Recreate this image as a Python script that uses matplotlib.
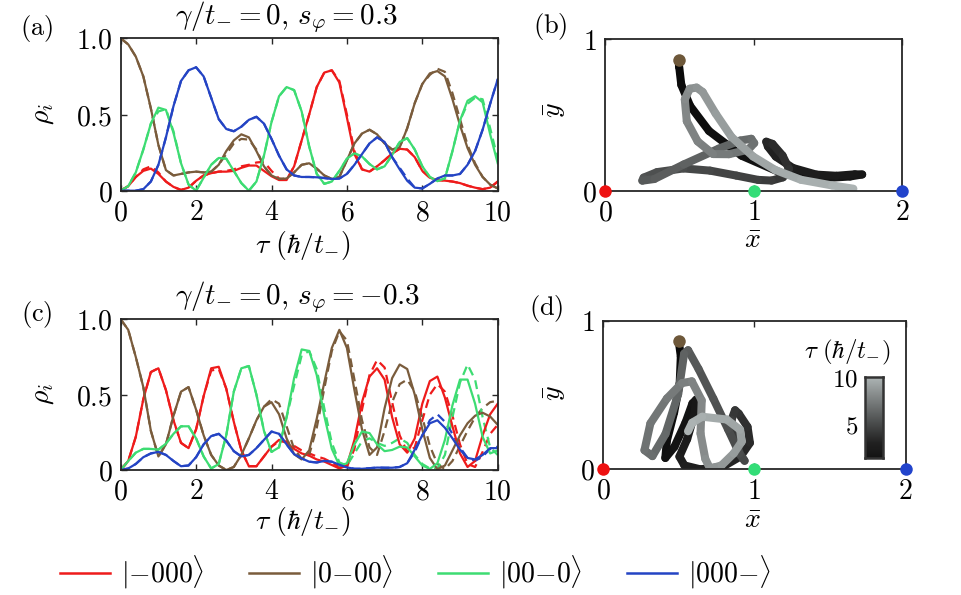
import numpy as np
import matplotlib
matplotlib.use('Agg')
import matplotlib.pyplot as plt
from matplotlib.collections import LineCollection
from matplotlib.colors import LinearSegmentedColormap, Normalize
from matplotlib.lines import Line2D

plt.rcParams['mathtext.fontset'] = 'cm'
plt.rcParams['font.family'] = ['DejaVu Serif']

# ---------------- data ----------------
tau = np.linspace(0, 10, 51)  # sampling grid, step 0.2

# panel (a): gamma/t=0, s_phi=0.3   (solid)
red_a = [0.00,0.03,0.09,0.13,0.145,0.11,0.06,0.025,0.005,0.02,
         0.065,0.10,0.115,0.125,0.125,0.13,0.15,0.165,0.165,0.13,
         0.095,0.07,0.07,0.16,0.33,0.50,0.68,0.775,0.79,0.71,
         0.48,0.24,0.14,0.125,0.16,0.20,0.245,0.275,0.27,0.22,
         0.13,0.085,0.07,0.066,0.06,0.05,0.033,0.02,0.01,0.02,
         0.06]
brown_a = [1.00,0.96,0.88,0.75,0.54,0.30,0.135,0.10,0.11,0.12,
           0.125,0.12,0.125,0.17,0.26,0.33,0.37,0.35,0.26,0.16,
           0.10,0.077,0.08,0.12,0.17,0.18,0.145,0.10,0.077,0.09,
           0.20,0.31,0.375,0.40,0.37,0.31,0.27,0.285,0.41,0.575,
           0.70,0.77,0.785,0.75,0.60,0.43,0.28,0.17,0.09,0.04,
           0.015]
green_a = [0.00,0.03,0.12,0.27,0.44,0.545,0.53,0.38,0.18,0.04,
           0.00,0.085,0.17,0.215,0.21,0.13,0.05,0.00,0.06,0.23,
           0.45,0.62,0.68,0.66,0.52,0.29,0.11,0.045,0.06,0.13,
           0.21,0.245,0.225,0.175,0.14,0.16,0.235,0.32,0.345,0.27,
           0.16,0.09,0.063,0.08,0.26,0.46,0.59,0.62,0.58,0.37,
           0.18]
blue_a = [0.00,0.00,0.00,0.01,0.06,0.17,0.35,0.555,0.72,0.79,
          0.81,0.75,0.61,0.47,0.405,0.39,0.42,0.465,0.485,0.44,
          0.34,0.23,0.14,0.10,0.09,0.09,0.088,0.083,0.077,0.08,
          0.11,0.17,0.24,0.31,0.35,0.32,0.22,0.14,0.065,0.02,
          0.015,0.045,0.08,0.10,0.10,0.11,0.17,0.26,0.40,0.57,
          0.73]

# panel (a) dashed
red_a_d = [0.00,0.03,0.09,0.14,0.16,0.12,0.06,0.025,0.005,0.02,
           0.065,0.10,0.115,0.125,0.13,0.14,0.16,0.17,0.185,0.19,
           0.13,0.08,0.07,0.16,0.33,0.50,0.68,0.775,0.79,0.72,
           0.50,0.26,0.14,0.125,0.16,0.20,0.245,0.275,0.27,0.22,
           0.13,0.085,0.07,0.066,0.06,0.05,0.033,0.02,0.01,0.02,
           0.06]
brown_a_d = [1.00,0.96,0.88,0.75,0.54,0.30,0.135,0.10,0.11,0.12,
             0.125,0.12,0.125,0.17,0.24,0.31,0.34,0.335,0.27,0.16,
             0.10,0.077,0.08,0.12,0.17,0.18,0.145,0.10,0.077,0.09,
             0.20,0.31,0.375,0.40,0.37,0.31,0.27,0.285,0.41,0.575,
             0.70,0.76,0.80,0.78,0.64,0.47,0.30,0.18,0.09,0.04,
             0.015]
green_a_d = [0.00,0.03,0.12,0.27,0.44,0.52,0.535,0.39,0.18,0.04,
             0.00,0.085,0.17,0.215,0.21,0.13,0.05,0.00,0.06,0.23,
             0.45,0.62,0.68,0.66,0.52,0.29,0.11,0.045,0.06,0.13,
             0.21,0.245,0.225,0.175,0.14,0.16,0.235,0.32,0.345,0.27,
             0.16,0.09,0.063,0.08,0.26,0.46,0.57,0.61,0.60,0.41,
             0.21]
blue_a_d = [0.00,0.00,0.00,0.01,0.06,0.17,0.35,0.555,0.72,0.79,
            0.81,0.75,0.61,0.47,0.405,0.39,0.42,0.465,0.485,0.44,
            0.34,0.23,0.14,0.10,0.09,0.09,0.088,0.083,0.077,0.08,
            0.11,0.17,0.24,0.31,0.35,0.32,0.22,0.15,0.08,0.02,
            0.015,0.045,0.08,0.10,0.10,0.11,0.17,0.26,0.40,0.57,
            0.73]

# panel (c): gamma/t=0, s_phi=-0.3   (solid)
red_c = [0.00,0.06,0.22,0.47,0.65,0.675,0.53,0.33,0.18,0.145,
         0.27,0.49,0.675,0.685,0.54,0.32,0.13,0.025,0.025,0.09,
         0.155,0.20,0.18,0.14,0.11,0.095,0.07,0.056,0.033,0.01,
         0.03,0.20,0.45,0.62,0.675,0.60,0.35,0.17,0.115,0.21,
         0.44,0.59,0.62,0.48,0.29,0.11,0.02,0.06,0.23,0.37,
         0.44]
brown_c = [1.00,0.93,0.75,0.55,0.26,0.09,0.17,0.36,0.52,0.55,
           0.40,0.23,0.10,0.03,0.00,0.02,0.10,0.21,0.33,0.42,
           0.45,0.37,0.21,0.105,0.07,0.13,0.34,0.58,0.81,0.93,
           0.81,0.53,0.27,0.10,0.15,0.41,0.61,0.70,0.67,0.50,
           0.27,0.08,0.005,0.03,0.13,0.23,0.31,0.36,0.38,0.355,
           0.30]
green_c = [0.00,0.06,0.115,0.14,0.14,0.135,0.175,0.24,0.29,0.29,
           0.21,0.09,0.01,0.04,0.23,0.52,0.675,0.69,0.50,0.26,
           0.12,0.15,0.35,0.61,0.80,0.79,0.63,0.36,0.14,0.03,
           0.044,0.17,0.255,0.245,0.17,0.125,0.133,0.155,0.15,0.09,
           0.03,0.007,0.045,0.20,0.43,0.60,0.60,0.44,0.22,0.11,
           0.13]
blue_c = [0.00,0.01,0.04,0.085,0.11,0.12,0.10,0.06,0.025,0.03,
          0.085,0.17,0.225,0.24,0.195,0.125,0.09,0.10,0.145,0.20,
          0.255,0.24,0.17,0.105,0.077,0.055,0.05,0.06,0.055,0.035,
          0.017,0.008,0.008,0.012,0.016,0.015,0.015,0.02,0.045,0.135,
          0.23,0.31,0.33,0.28,0.21,0.135,0.08,0.07,0.10,0.145,
          0.145]

# panel (c) dashed
red_c_d = [0.00,0.06,0.22,0.47,0.65,0.675,0.53,0.33,0.18,0.145,
           0.27,0.49,0.66,0.67,0.54,0.32,0.13,0.025,0.025,0.09,
           0.155,0.19,0.19,0.16,0.13,0.11,0.09,0.075,0.05,0.02,
           0.02,0.14,0.40,0.63,0.73,0.68,0.45,0.23,0.12,0.15,
           0.33,0.50,0.57,0.52,0.36,0.17,0.04,0.02,0.12,0.24,
           0.30]
brown_c_d = [1.00,0.93,0.75,0.55,0.26,0.09,0.17,0.36,0.52,0.55,
             0.40,0.23,0.10,0.03,0.00,0.02,0.10,0.21,0.33,0.42,
             0.47,0.44,0.29,0.14,0.075,0.10,0.28,0.54,0.79,0.92,
             0.86,0.60,0.33,0.15,0.10,0.26,0.45,0.57,0.60,0.52,
             0.35,0.16,0.04,0.005,0.06,0.16,0.26,0.35,0.41,0.45,
             0.46]
green_c_d = [0.00,0.06,0.115,0.14,0.14,0.135,0.175,0.24,0.29,0.29,
             0.21,0.09,0.01,0.04,0.23,0.52,0.675,0.69,0.50,0.26,
             0.12,0.15,0.35,0.56,0.76,0.79,0.67,0.41,0.18,0.05,
             0.03,0.11,0.19,0.21,0.18,0.16,0.18,0.21,0.18,0.10,
             0.04,0.01,0.01,0.10,0.35,0.58,0.70,0.60,0.35,0.15,
             0.10]
blue_c_d = [0.00,0.01,0.04,0.085,0.11,0.12,0.10,0.06,0.025,0.03,
            0.085,0.17,0.225,0.24,0.195,0.125,0.09,0.10,0.145,0.20,
            0.255,0.24,0.17,0.105,0.077,0.055,0.05,0.06,0.055,0.035,
            0.017,0.008,0.008,0.012,0.016,0.015,0.015,0.02,0.045,0.12,
            0.23,0.33,0.37,0.32,0.24,0.15,0.08,0.06,0.09,0.14,
            0.155]

# site positions of the four states (red, brown, green, blue)
site_x = [0.0, 0.5, 1.0, 2.0]
site_y = [0.0, 0.866, 0.0, 0.0]

state_labels = [r'$|{-}000\rangle$', r'$|0{-}00\rangle$',
                r'$|00{-}0\rangle$', r'$|000{-}\rangle$']
colors = ['#ee1b1b', '#7a5c3c', '#3ddc72', '#2444c4']
marker_colors = ['#ee1111', '#6e583a', '#33dd77', '#2244cc']

# ---------------- figure ----------------
W, H = 961, 595
fig = plt.figure(figsize=(W / 100, H / 100), dpi=100)


def rect(x0, y0, x1, y1):
    return [x0 / W, 1 - y1 / H, (x1 - x0) / W, (y1 - y0) / H]


def fxy(x, y):
    return (x / W, 1 - y / H)


SPINE = '#262626'
TICKFS = 20


def style(ax):
    for s in ax.spines.values():
        s.set_color(SPINE)
        s.set_linewidth(1.3)
    ax.tick_params(direction='in', top=True, right=True, length=4, width=1.0,
                   color=SPINE, labelsize=TICKFS, pad=6)


def rho_panel(ax, series_solid, series_dash):
    for c, yd in zip(colors, series_dash):
        ax.plot(tau, yd, color=c, lw=1.6, dashes=(4, 2.5),
                solid_joinstyle='round', dash_joinstyle='round')
    for c, ys in zip(colors, series_solid):
        ax.plot(tau, ys, color=c, lw=1.6, solid_joinstyle='round')
    ax.set_xlim(0, 10)
    ax.set_ylim(0, 1)
    ax.set_xticks([0, 2, 4, 6, 8, 10], [f'${v}$' for v in [0, 2, 4, 6, 8, 10]])
    ax.set_yticks([0, 0.5, 1.0], ['$0$', '$0.5$', '$1.0$'])
    style(ax)


cmap = LinearSegmentedColormap.from_list(
    'traj', [(0.0, (0.03, 0.03, 0.03)), (0.3, (0.13, 0.13, 0.13)),
             (0.56, (0.33, 0.34, 0.34)), (0.84, (0.55, 0.57, 0.57)),
             (1.0, (0.68, 0.71, 0.71))])
norm = Normalize(0, 10)


def traj_panel(ax, r, b, g, bl):
    rho = np.array([r, b, g, bl])
    tot = rho.sum(axis=0)
    xb = (np.array(site_x)[:, None] * rho).sum(axis=0) / tot
    yb = (np.array(site_y)[:, None] * rho).sum(axis=0) / tot
    pts = np.column_stack([xb, yb]).reshape(-1, 1, 2)
    segs = np.concatenate([pts[:-1], pts[1:]], axis=1)
    tmid = 0.5 * (tau[:-1] + tau[1:])
    lc = LineCollection(segs, cmap=cmap, norm=norm, linewidths=5.8,
                        capstyle='round', joinstyle='round')
    lc.set_array(tmid)
    ax.add_collection(lc)
    for sx, sy, mc in zip(site_x, site_y, marker_colors):
        ax.plot([sx], [sy], 'o', ms=9, color=mc, mec='none', clip_on=False, zorder=5)
    ax.set_xlim(0, 2)
    ax.set_ylim(0, 1)
    ax.set_xticks([0, 1, 2], ['$0$', '$1$', '$2$'])
    ax.set_yticks([0, 1], ['$0$', '$1$'])
    style(ax)
    ax.tick_params(right=False)


axA = fig.add_axes(rect(120.7, 38.3, 497.7, 190.7))
axC = fig.add_axes(rect(120.7, 319.3, 497.7, 470.0))
axB = fig.add_axes(rect(605, 39.3, 902, 190.7))
axD = fig.add_axes(rect(603, 320.7, 905.7, 469.3))

rho_panel(axA, [red_a, brown_a, green_a, blue_a], [red_a_d, brown_a_d, green_a_d, blue_a_d])
rho_panel(axC, [red_c, brown_c, green_c, blue_c], [red_c_d, brown_c_d, green_c_d, blue_c_d])
traj_panel(axB, red_a, brown_a, green_a, blue_a)
traj_panel(axD, red_c, brown_c, green_c, blue_c)

# colorbar in (d)
cax = fig.add_axes(rect(865, 377, 883, 458))
grad = np.linspace(0, 10, 256)
cax.imshow(grad[:, None], extent=(0, 1, 0, 10), origin='lower', aspect='auto',
           cmap=cmap, norm=norm)
cax.set_ylim(1.4, 10.05)
cax.set_xticks([])
cax.set_yticks([5, 10], ['$5$', '$10$'])
cax.tick_params(left=True, right=False, length=0, labelsize=18, pad=5)
for s in cax.spines.values():
    s.set_color('#333333')
    s.set_linewidth(1.8)
fig.text(*fxy(847, 352), r'$\tau\ (\hbar/t_{-})$', fontsize=18, ha='center', va='center')

# texts
LBL = 20
fig.text(*fxy(37, 29), r'$\mathrm{(a)}$', fontsize=19, ha='center', va='center')
fig.text(*fxy(550, 27), r'$\mathrm{(b)}$', fontsize=19, ha='center', va='center')
fig.text(*fxy(37, 314), r'$\mathrm{(c)}$', fontsize=19, ha='center', va='center')
fig.text(*fxy(546, 309), r'$\mathrm{(d)}$', fontsize=19, ha='center', va='center')

fig.text(*fxy(175, 17), r'$\gamma/t_{-}=0,\,s_{\varphi}=0.3$', fontsize=21, ha='left', va='center')
fig.text(*fxy(175, 297), r'$\gamma/t_{-}=0,\,s_{\varphi}=-0.3$', fontsize=21, ha='left', va='center')

fig.text(*fxy(42, 114), r'$\rho_i$', fontsize=LBL, ha='center', va='center', rotation=90)
fig.text(*fxy(42, 394), r'$\rho_i$', fontsize=LBL, ha='center', va='center', rotation=90)
fig.text(*fxy(303, 246), r'$\tau\ (\hbar/t_{-})$', fontsize=LBL, ha='center', va='center')
fig.text(*fxy(303, 522), r'$\tau\ (\hbar/t_{-})$', fontsize=LBL, ha='center', va='center')

fig.text(*fxy(554, 110), r'$\bar{y}$', fontsize=LBL, ha='center', va='center', rotation=90)
fig.text(*fxy(554, 393), r'$\bar{y}$', fontsize=LBL, ha='center', va='center', rotation=90)
fig.text(*fxy(753, 240), r'$\bar{x}$', fontsize=LBL, ha='center', va='center')
fig.text(*fxy(753, 521), r'$\bar{x}$', fontsize=LBL, ha='center', va='center')

# legend
handles = [Line2D([0], [0], color=c, lw=1.8) for c in colors]
fig.legend(handles, state_labels, loc='center left', bbox_to_anchor=fxy(60, 572),
           ncol=4, frameon=False, fontsize=20, handlelength=1.8, handletextpad=0.4,
           columnspacing=1.6, borderpad=0, borderaxespad=0)

fig.savefig('out.png', dpi=100)
